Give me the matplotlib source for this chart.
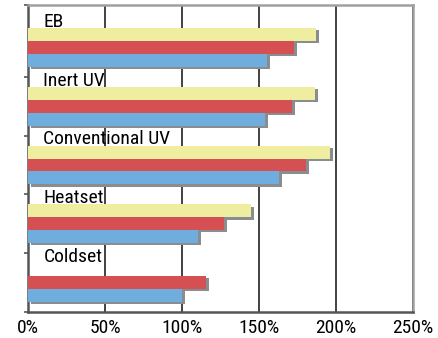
import numpy as np
import matplotlib
matplotlib.use("Agg")
import matplotlib.pyplot as plt
import matplotlib.patheffects as pe

# Data (bottom to top)
categories = ["Coldset", "Heatset", "Conventional UV", "Inert UV", "EB"]
yellow_vals = [0, 144.6, 195.9, 186.2, 186.8]
red_vals = [115.8, 127.0, 180.3, 171.2, 172.7]
blue_vals = [100.0, 110.4, 163.0, 153.9, 155.2]
xticks = [0, 50, 100, 150, 200, 250]
xtick_labels = ["0%", "50%", "100%", "150%", "200%", "250%"]

font = ["Roboto Condensed", "DejaVu Sans"]

fig = plt.figure(figsize=(4.38, 3.38), dpi=100)
ax = fig.add_axes([28 / 438, 1 - 312 / 338, 385 / 438, 307 / 338])

y = np.arange(len(categories))
h = 0.22
shadow = [pe.SimplePatchShadow(offset=(2.2, -1.6), shadow_rgbFace="#8a8d90", alpha=1), pe.Normal()]

# yellow series has no Coldset bar
yy = [v if v > 0 else np.nan for v in yellow_vals]
for vals, off, col in [(yy, h, "#efeda0"), (red_vals, 0, "#d45052"), (blue_vals, -h, "#6eadde")]:
    bars = ax.barh(y + off, vals, height=h, color=col, zorder=3)
    for b in bars:
        b.set_path_effects(shadow)

for i, name in enumerate(categories):
    ax.text(10, i + 0.35, name, fontsize=14, family=font, va="baseline", ha="left", zorder=4)

ax.set_xlim(0, 250)
top = 4.5 + 13 / 59
ax.set_ylim(-0.5, top)
ax.set_xticks(xticks)
ax.set_xticklabels(xtick_labels, family=font, fontsize=14)
ax.set_yticks([-0.5, 0.5, 1.5, 2.5, 3.5, top])
ax.set_yticklabels([])
ax.tick_params(axis="x", length=0, pad=5)
ax.tick_params(axis="y", length=3, width=1.2, color="#555555")

ax.grid(axis="x", color="#333333", linewidth=1.3, zorder=1)
ax.set_axisbelow(True)
for s in ["left", "bottom"]:
    ax.spines[s].set_color("#555555")
    ax.spines[s].set_linewidth(1.8)
for s in ["top", "right"]:
    ax.spines[s].set_color("#a0a0a0")
    ax.spines[s].set_linewidth(1.8)

fig.savefig("out.png", dpi=100)
